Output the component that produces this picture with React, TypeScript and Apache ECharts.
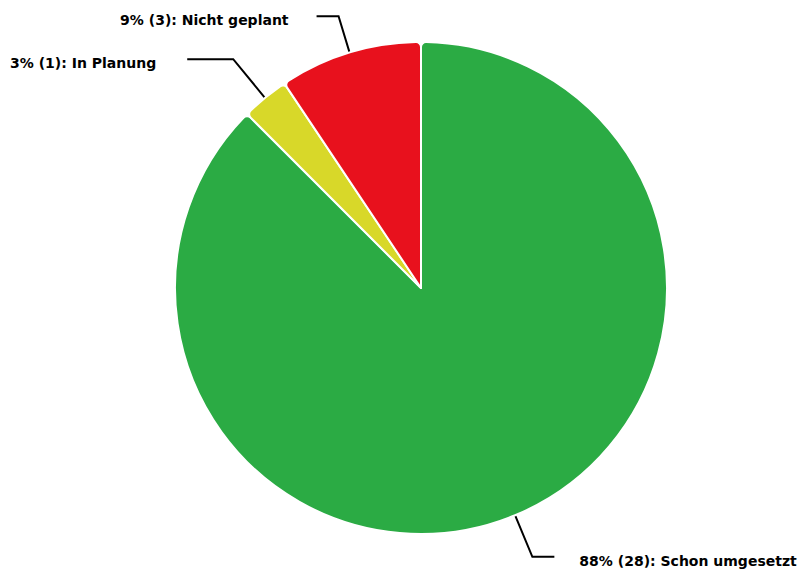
import React, { useEffect, useRef } from "react";
import * as echarts from "echarts";

const categories = ["Schon umgesetzt", "In Planung", "Nicht geplant"];
const values = [28, 1, 3];
const percents = ["88%", "3%", "9%"];
const colors = ["#2bab44", "#d8d829", "#e8111d"];
const lineLengths = [45, 50, 38];
const lineLengths2 = [22, 46, 22];
const labelGaps = [25, 31, 28];

export default function App() {
  const ref = useRef<HTMLDivElement>(null);
  useEffect(() => {
    if (!ref.current) return;
    const chart = echarts.init(ref.current, undefined, { renderer: "svg" });
    chart.setOption({
      animation: false,
      backgroundColor: "#ffffff",
      series: [
        {
          type: "pie",
          center: [421, 288],
          radius: [0, 246],
          startAngle: 90,
          clockwise: true,
          avoidLabelOverlap: false,
          itemStyle: { borderColor: "#ffffff", borderWidth: 2, borderRadius: 5 },
          label: {
            show: true,
            color: "#000000",
            fontFamily: "DejaVu Sans",
            fontWeight: "bold",
            fontSize: 14,
            rich: {
              t: {
                color: "#000000",
                fontFamily: "DejaVu Sans",
                fontWeight: "bold",
                fontSize: 14,
                padding: [8, 0, 0, 0],
              },
            },
          },
          labelLine: {
            show: true,
            lineStyle: { color: "#000000", width: 2 },
          },
          data: categories.map((c, i) => ({
            name: c,
            value: values[i],
            itemStyle: { color: colors[i] },
            label: {
              formatter: `{t|${percents[i]} (${values[i]}): ${c}}`,
              distanceToLabelLine: labelGaps[i],
            },
            labelLine: { length: lineLengths[i], length2: lineLengths2[i] },
          })),
        },
      ],
    });
    return () => chart.dispose();
  }, []);
  return (
    <div
      ref={ref}
      style={{ position: "fixed", left: 0, top: 0, width: 801, height: 569 }}
    />
  );
}
